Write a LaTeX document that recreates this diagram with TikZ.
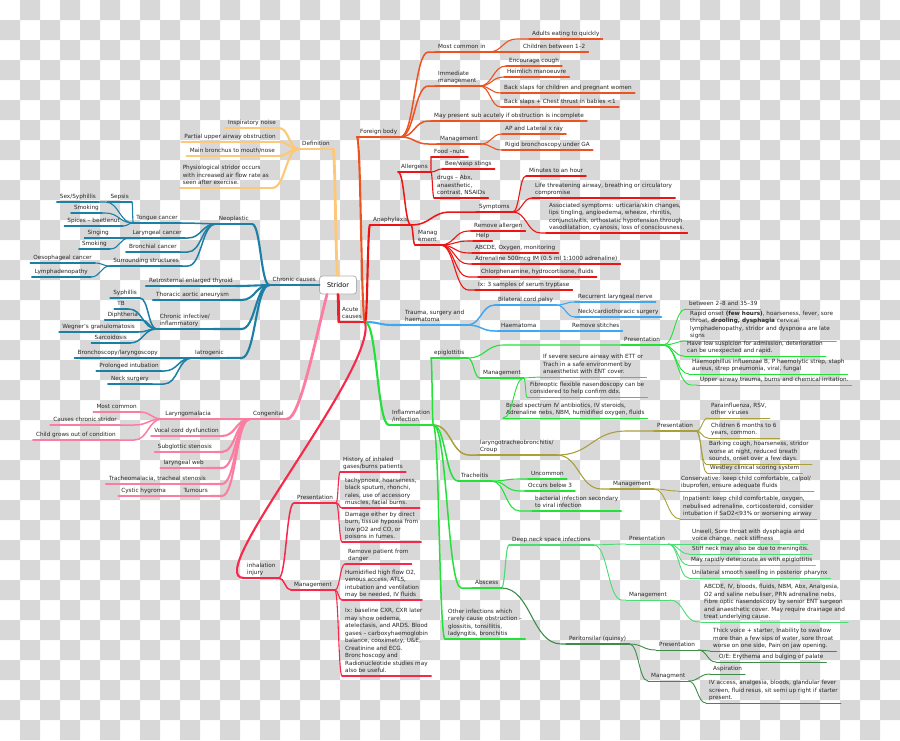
\documentclass[tikz,border=0pt]{standalone}
\usepackage{fontspec}
\setmainfont{DejaVu Sans}
\usetikzlibrary{calc}

\definecolor{chk}{HTML}{D8D8D8}
\definecolor{defc}{HTML}{FDC878}
\definecolor{chrc}{HTML}{1B7FA6}
\definecolor{cngc}{HTML}{FB7EA2}
\definecolor{acuc}{HTML}{EE1C2C}
\definecolor{fbc}{HTML}{EE5220}
\definecolor{anac}{HTML}{EE1414}
\definecolor{trac}{HTML}{3EA8F2}
\definecolor{infc}{HTML}{22E23A}
\definecolor{crpc}{HTML}{A9A03C}
\definecolor{dnsc}{HTML}{4CDC74}
\definecolor{perc}{HTML}{3F8C4A}
\definecolor{inhc}{HTML}{F8284A}

% text sitting on its own underline
\newcommand{\leafR}[4]{\node[leaf, anchor=south west] (#2) at (#3) {#4};
  \draw[#1] (#2.south west) -- (#2.south east);}
\newcommand{\leafL}[4]{\node[leaf, anchor=south east] (#2) at (#3) {#4};
  \draw[#1] (#2.south west) -- (#2.south east);}
% branch curve, flat after the knee
\newcommand{\lnk}[4][28]{\draw[#2] let \p1=(#3), \p2=(#4),
    \n1={min(#1,abs(\x2-\x1))}, \n2={ifthenelse(\x2<\x1,-1,1)} in
    (\p1) .. controls ({\x1+\n2*\n1/2},\y1) and ({\x1+\n2*\n1/2},\y2)
    .. ({\x1+\n2*\n1},\y2) -- (\p2);}
\newcommand{\cnR}[4][28]{\lnk[#1]{#2}{#3.south east}{#4.south west}}
\newcommand{\cnL}[4][28]{\lnk[#1]{#2}{#3.south west}{#4.south east}}

\begin{document}
\begin{tikzpicture}[x=1pt, y=-1pt,
    leaf/.style={inner xsep=3pt, inner ysep=0.8pt, align=left,
      font=\fontsize{5.7}{7.5}\selectfont, text=black!85,
      execute at end node=\strut},
    root/.style={draw=gray!60, fill=white, rounded corners=3pt,
      minimum width=37pt, minimum height=18pt, line width=0.8pt,
      font=\fontsize{6.5}{8}\selectfont},
    w1/.style={line width=2.8pt, line cap=round},
    w2/.style={line width=2.1pt, line cap=round},
    w3/.style={line width=1.5pt, line cap=round},
    w4/.style={line width=1.1pt, line cap=round},
    w5/.style={line width=0.9pt, line cap=round}]

\useasboundingbox (0,0) rectangle (900,740);
% checkered backdrop
\fill[white] (0,0) rectangle (900,740);
\fill[chk] \foreach \i in {0,...,44} { \foreach \j in {0,...,36} {
    \ifodd\numexpr\i+\j\relax (\i*20,\j*20) rectangle +(20,20) \fi } };

\node[root] (stridor) at (338,285) {Stridor};

% definition
\leafL{defc,w1}{def}{333,149}{Definition}
\lnk[6]{defc,w1}{stridor.north}{def.south east}
\leafL{defc,w2}{ins}{279,128}{Inspiratory noise}
\leafL{defc,w2}{pua}{279,142}{Partial upper airway obstruction}
\leafL{defc,w2}{mbm}{278,156}{Main bronchus to mouth/nose}
\leafL{defc,w2}{phy}{272,188}{Physiological stridor occurs\\with increased air flow rate as\\seen after exercise.}
\cnL{defc,w2}{def}{ins}
\cnL{defc,w2}{def}{pua}
\cnL{defc,w2}{def}{mbm}
\cnL{defc,w2}{def}{phy}

% chronic causes
\leafL{chrc,w1}{chr}{319,285}{Chronic causes}
\draw[chrc,w1] (stridor.west) -- (chr.south east);
\leafL{chrc,w2}{neo}{252,224}{Neoplastic}
\leafL{chrc,w2}{rtt}{236,286}{Retrosternal enlarged thyroid}
\leafL{chrc,w2}{taa}{232,300}{Thoracic aortic aneurysm}
\leafL{chrc,w2}{cii}{213,329}{Chronic infective/\\inflammatory}
\leafL{chrc,w2}{iat}{227,358}{Iatrogenic}
\cnL{chrc,w2}{chr}{neo}
\cnL{chrc,w2}{chr}{rtt}
\cnL{chrc,w2}{chr}{taa}
\cnL{chrc,w2}{chr}{cii}
\cnL{chrc,w2}{chr}{iat}

\leafL{chrc,w3}{tng}{181,223}{Tongue cancer}
\leafL{chrc,w3}{lar}{185,238}{Laryngeal cancer}
\leafL{chrc,w3}{brc}{180,252}{Bronchial cancer}
\leafL{chrc,w3}{sur}{182,266}{Surrounding structures}
\cnL{chrc,w3}{neo}{tng}
\cnL{chrc,w3}{neo}{lar}
\cnL{chrc,w3}{neo}{brc}
\cnL{chrc,w3}{neo}{sur}

\leafL{chrc,w4}{sep}{132,202}{Sepsis}
\leafL{chrc,w4}{ssy}{99,202}{Sex/Syphillis}
\leafL{chrc,w4}{smka}{102,213}{Smoking}
\leafL{chrc,w4}{spc}{123,226}{Spices – beetlenut}
\cnL{chrc,w4}{tng}{sep}
\cnL{chrc,w4}{tng}{ssy}
\cnL{chrc,w4}{tng}{smka}
\cnL{chrc,w4}{tng}{spc}
\leafL{chrc,w4}{sng}{112,238}{Singing}
\leafL{chrc,w4}{smkb}{110,249}{Smoking}
\cnL{chrc,w4}{lar}{sng}
\cnL{chrc,w4}{lar}{smkb}
\leafL{chrc,w4}{oes}{95,263}{Oesophageal cancer}
\leafL{chrc,w4}{lym}{91,277}{Lymphadenopathy}
\cnL{chrc,w4}{sur}{oes}
\cnL{chrc,w4}{sur}{lym}

\leafL{chrc,w3}{syp}{140,298}{Syphillis}
\leafL{chrc,w3}{tb}{128,309}{TB}
\leafL{chrc,w3}{dip}{141,320}{Diphtheria}
\leafL{chrc,w3}{weg}{138,332}{Wegner's granulomatosis}
\leafL{chrc,w3}{sar}{130,343}{Sarcoidosis}
\cnL{chrc,w3}{cii}{syp}
\cnL{chrc,w3}{cii}{tb}
\cnL{chrc,w3}{cii}{dip}
\cnL{chrc,w3}{cii}{weg}
\cnL{chrc,w3}{cii}{sar}
\leafL{chrc,w3}{bro}{161,358}{Bronchoscopy/laryngoscopy}
\leafL{chrc,w3}{pro}{162,371}{Prolonged intubation}
\leafL{chrc,w3}{nsu}{152,384}{Neck surgery}
\cnL{chrc,w3}{iat}{bro}
\cnL{chrc,w3}{iat}{pro}
\cnL{chrc,w3}{iat}{nsu}

% congenital
\leafL{cngc,w1}{cng}{287,419}{Congenital}
\draw[cngc,w1] ([xshift=-11pt]stridor.south) .. controls +(-12,46) and +(13,0) .. (cng.south east);
\leafL{cngc,w2}{lma}{214,419}{Laryngomalacia}
\leafL{cngc,w2}{vcd}{222,436}{Vocal cord dysfunction}
\leafL{cngc,w2}{sgs}{215,452}{Subglottic stenosis}
\leafL{cngc,w2}{lwb}{207,468}{laryngeal web}
\leafL{cngc,w2}{trm}{209,484}{Tracheomalacia, tracheal stenosis}
\leafL{cngc,w2}{tum}{211,496}{Tumours}
\cnL{cngc,w2}{cng}{lma}
\cnL{cngc,w2}{cng}{vcd}
\cnL{cngc,w2}{cng}{sgs}
\cnL{cngc,w2}{cng}{lwb}
\cnL{cngc,w2}{cng}{trm}
\cnL{cngc,w2}{cng}{tum}
\leafL{cngc,w3}{mco}{140,412}{Most common}
\leafL{cngc,w3}{ccs}{120,425}{Causes chronic stridor}
\leafL{cngc,w3}{cgo}{119,440}{Child grows out of condition}
\cnL{cngc,w3}{lma}{mco}
\cnL{cngc,w3}{lma}{ccs}
\cnL{cngc,w3}{lma}{cgo}
\leafL{cngc,w3}{cyh}{169,496}{Cystic hygroma}
\cnL{cngc,w3}{tum}{cyh}

% acute causes
\leafR{acuc,w1}{acu}{339,322}{Acute\\causes}
\lnk[4]{acuc,w1}{stridor.south}{acu.south west}
\leafR{fbc,w2}{fb}{357,137}{Foreign body}
\leafR{anac,w2}{ana}{370,225}{Anaphylaxis}
\leafR{trac,w2}{tsh}{402,325}{Trauma, surgery and\\haematoma}
\leafR{infc,w2}{inf}{389,425}{Inflammation\\/infection}
\leafR{inhc,w2}{inh}{244,578}{inhalation\\injury}
\cnR{fbc,w2}{acu}{fb}
\cnR{anac,w2}{acu}{ana}
\cnR{trac,w2}{acu}{tsh}
\cnR{infc,w2}{acu}{inf}
\draw[inhc,w2] (acu.south east) .. controls +(12,48) and +(-44,0) .. (inh.south west);

% foreign body
\leafR{fbc,w3}{mci}{435,52}{Most common in}
\leafR{fbc,w3}{imm}{435,86}{Immediate\\management}
\leafR{fbc,w3}{msa}{431,121}{May present sub acutely if obstruction is incomplete}
\leafR{fbc,w3}{fbm}{437,144}{Management}
\cnR{fbc,w3}{fb}{mci}
\cnR{fbc,w3}{fb}{imm}
\cnR{fbc,w3}{fb}{msa}
\cnR{fbc,w3}{fb}{fbm}
\leafR{fbc,w4}{adl}{529,39}{Adults eating to quickly}
\leafR{fbc,w4}{chb}{520,52}{Children between 1–2}
\cnR{fbc,w4}{mci}{adl}
\cnR{fbc,w4}{mci}{chb}
\leafR{fbc,w4}{enc}{506,66}{Encourage cough}
\leafR{fbc,w4}{hei}{504,77}{Heimlich manoeuvre}
\leafR{fbc,w4}{bsc}{501,93}{Back slaps for children and pregnant women}
\leafR{fbc,w4}{bsb}{501,107}{Back slaps + Chest thrust in babies <1}
\cnR{fbc,w4}{imm}{enc}
\cnR{fbc,w4}{imm}{hei}
\cnR{fbc,w4}{imm}{bsc}
\cnR{fbc,w4}{imm}{bsb}
\leafR{fbc,w4}{apx}{502,134}{AP and Lateral x ray}
\leafR{fbc,w4}{rig}{502,150}{Rigid bronchoscopy under GA}
\cnR{fbc,w4}{fbm}{apx}
\cnR{fbc,w4}{fbm}{rig}

% anaphylaxis
\leafR{anac,w3}{all}{398,172}{Allergens}
\leafR{anac,w3}{sym}{476,212}{Symptoms}
\leafR{anac,w3}{amg}{415,245}{Manag\\ement}
\cnR{anac,w3}{ana}{all}
\cnR[40]{anac,w3}{ana}{sym}
\cnR{anac,w3}{ana}{amg}
\leafR{anac,w4}{fdn}{431,157}{Food –nuts}
\leafR{anac,w4}{bee}{442,169}{Bee/wasp stings}
\leafR{anac,w4}{drg}{434,198}{drugs – Abx,\\anaesthetic,\\contrast, NSAIDs}
\cnR{anac,w4}{all}{fdn}
\cnR{anac,w4}{all}{bee}
\cnR{anac,w4}{all}{drg}
\leafR{anac,w4}{mth}{526,176}{Minutes to an hour}
\leafR{anac,w4}{lta}{532,198}{Life threatening airway, breathing or circulatory\\compromise}
\leafR{anac,w4}{ass}{546,233}{Associated symptoms: urticaria/skin changes,\\lips tingling, angioedema, wheeze, rhinitis,\\conjunctivitis, orthostatic hypotension through\\vasodilatation, cyanosis, loss of consciousness.}
\cnR{anac,w4}{sym}{mth}
\cnR{anac,w4}{sym}{lta}
\cnR{anac,w4}{sym}{ass}
\leafR{anac,w4}{rma}{471,231}{Remove allergen}
\leafR{anac,w4}{hlp}{473,241}{Help}
\leafR{anac,w4}{abc}{472,253}{ABCDE, Oxygen, monitoring}
\leafR{anac,w4}{adr}{472,264}{Adrenaline 500mcg IM (0.5 ml 1:1000 adrenaline)}
\leafR{anac,w4}{chl}{478,277}{Chlorphenamine, hydrocortisone, fluids}
\leafR{anac,w4}{ixt}{475,290}{Ix: 3 samples of serum tryptase}
\cnR{anac,w4}{amg}{rma}
\cnR{anac,w4}{amg}{hlp}
\cnR{anac,w4}{amg}{abc}
\cnR{anac,w4}{amg}{adr}
\cnR{anac,w4}{amg}{chl}
\cnR{anac,w4}{amg}{ixt}

% trauma
\leafR{trac,w3}{bcp}{495,305}{Bilateral cord palsy}
\leafR{trac,w3}{hae}{498,331}{Haematoma}
\cnR{trac,w3}{tsh}{bcp}
\cnR{trac,w3}{tsh}{hae}
\leafR{trac,w4}{rln}{575,302}{Recurrent laryngeal nerve}
\leafR{trac,w4}{ncs}{575,317}{Neck/cardiothoracic surgery}
\leafR{trac,w4}{rms}{569,331}{Remove stitches}
\cnR{trac,w4}{bcp}{rln}
\cnR{trac,w4}{bcp}{ncs}
\cnR{trac,w4}{hae}{rms}

% inflammation / infection
\leafR{infc,w3}{epi}{431,358}{epiglottitis}
\leafR{crpc,w3}{crp}{477,455}{laryngotracheobronchitis/\\Croup}
\leafR{infc,w3}{tra}{458,481}{Tracheitis}
\leafR{infc,w3}{absc}{472,588}{Abscess}
\leafR{infc,w3}{oth}{445,639}{Other infections which\\rarely cause obstruction –\\glossitis, tonsillitis,\\ladyngitis, bronchitis}
\cnR{infc,w3}{inf}{epi}
\cnR[36]{crpc,w3}{inf}{crp}
\cnR{infc,w3}{inf}{tra}
\cnR{infc,w3}{inf}{absc}
\cnR{infc,w3}{inf}{oth}

\leafR{infc,w4}{epr}{621,345}{Presentation}
\leafR{infc,w4}{emg}{480,378}{Management}
\cnR[36]{infc,w4}{epi}{epr}
\cnR{infc,w4}{epi}{emg}
\leafR{infc,w5}{bet}{686,309}{between 2–8 and 35–39}
\leafR{infc,w5}{rap}{687,341}{Rapid onset \textbf{(few hours)}, hoarseness, fever, sore\\throat, \textbf{drooling, dysphagia} cervical\\lymphadenopathy, stridor and dyspnoea are late\\signs}
\leafR{infc,w5}{hls}{684,356}{Have low suspicion for admission, deterioration\\can be unexpected and rapid.}
\leafR{infc,w5}{hib}{689,374}{Haemophillus influenzae B, P haemolytic strep, staph\\aureus, strep pneumonia, viral, fungal}
\leafR{infc,w5}{uat}{697,385}{Upper airway trauma, burns and chemical irritation.}
\cnR{infc,w5}{epr}{bet}
\cnR{infc,w5}{epr}{rap}
\cnR{infc,w5}{epr}{hls}
\cnR{infc,w5}{epr}{hib}
\cnR{infc,w5}{epr}{uat}
\leafR{infc,w5}{sev}{540,377}{If severe secure airway with ETT or\\Trach in a safe environment by\\anaesthetist with ENT cover.}
\leafR{infc,w5}{fib}{527,397}{Fibreoptic flexible nasendoscopy can be\\considered to help confirm ddx.}
\leafR{infc,w5}{bsp}{503,418}{Broad spectrum IV antibiotics, IV steroids,\\Adrenaline nebs, NBM, humidified oxygen, fluids}
\cnR{infc,w5}{emg}{sev}
\cnR{infc,w5}{emg}{fib}
\cnR{infc,w5}{emg}{bsp}

% croup
\leafR{crpc,w4}{cpr}{654,431}{Presentation}
\leafR{crpc,w4}{cmg}{610,489}{Management}
\cnR[70]{crpc,w4}{crp}{cpr}
\cnR[45]{crpc,w4}{crp}{cmg}
\leafR{crpc,w5}{par}{708,418}{Parainfluenza, RSV,\\other viruses}
\leafR{crpc,w5}{csm}{708,438}{Children 6 months to 6\\years, common.}
\leafR{crpc,w5}{bar}{706,464}{Barking cough, hoarseness, stridor\\worse at night, reduced breath\\sounds, onset over a few days.}
\leafR{crpc,w5}{wes}{707,473}{Westley clinical scoring system}
\cnR{crpc,w5}{cpr}{par}
\cnR{crpc,w5}{cpr}{csm}
\cnR{crpc,w5}{cpr}{bar}
\cnR{crpc,w5}{cpr}{wes}
\leafR{crpc,w5}{cns}{678,491}{Conservative: keep child comfortable, calpol/\\ibuprofen, ensure adequate fluids}
\leafR{crpc,w5}{inp}{680,519}{Inpatient: keep child comfortable, oxygen,\\nebulised adrenaline, corticosteroid, consider\\intubation if SaO2<93\% or worsening airway}
\cnR{crpc,w5}{cmg}{cns}
\cnR{crpc,w5}{cmg}{inp}

% tracheitis
\leafR{infc,w4}{unc}{528,479}{Uncommon}
\leafR{infc,w4}{ob3}{525,491}{Occurs below 3}
\leafR{infc,w4}{bac}{532,511}{bacterial infection secondary\\to viral infection}
\cnR{infc,w4}{tra}{unc}
\cnR{infc,w4}{tra}{ob3}
\cnR{infc,w4}{tra}{bac}

% abscess
\leafR{dnsc,w4}{dns}{509,545}{Deep neck space infections}
\leafR{perc,w4}{per}{566,644}{Peritonsilar (quinsy)}
\cnR{dnsc,w4}{absc}{dns}
\cnR[60]{perc,w4}{absc}{per}
\leafR{dnsc,w5}{dpr}{626,544}{Presentation}
\leafR{dnsc,w5}{dmg}{626,600}{Management}
\cnR{dnsc,w5}{dns}{dpr}
\cnR{dnsc,w5}{dns}{dmg}
\leafR{dnsc,w5}{unw}{689,544}{Unwell, Sore throat with dysphagia and\\voice change. neck stiffness}
\leafR{dnsc,w5}{stf}{689,554}{Stiff neck may also be due to meningitis.}
\leafR{dnsc,w5}{mrd}{688,565}{May rapidly deteriorate as with epiglottitis}
\leafR{dnsc,w5}{uni}{689,578}{Unilateral smooth swelling in posterior pharynx}
\cnR{dnsc,w5}{dpr}{unw}
\cnR{dnsc,w5}{dpr}{stf}
\cnR{dnsc,w5}{dpr}{mrd}
\cnR{dnsc,w5}{dpr}{uni}
\leafR{dnsc,w5}{abd}{701,622}{ABCDE, IV, bloods, fluids, NBM, Abx, Analgesia,\\O2 and saline nebuliser, PRN adrenaline nebs,\\Fibre optic nasendoscopy by senior ENT surgeon\\and anaesthetic cover. May require drainage and\\treat underlying cause.}
\cnR{dnsc,w5}{dmg}{abd}
\leafR{perc,w5}{ppr}{656,650}{Presentation}
\leafR{perc,w5}{pmg}{648,681}{Managment}
\cnR{perc,w5}{per}{ppr}
\cnR{perc,w5}{per}{pmg}
\leafR{perc,w5}{thk}{710,651}{Thick voice + starter, Inability to swallow\\more than a few sips of water, sore throat\\worse on one side, Pain on jaw opening.}
\leafR{perc,w5}{oe}{716,662}{O/E: Erythema and bulging of palate}
\cnR{perc,w5}{ppr}{thk}
\cnR{perc,w5}{ppr}{oe}
\leafR{perc,w5}{asp}{710,674}{Aspiration}
\leafR{perc,w5}{iva}{706,703}{IV access, analgesia, bloods, glandular fever\\screen, fluid resus, sit semi up right if starter\\present.}
\cnR{perc,w5}{pmg}{asp}
\cnR{perc,w5}{pmg}{iva}

% inhalation injury
\leafR{inhc,w3}{ipr}{294,503}{Presentation}
\leafR{inhc,w3}{img}{291,590}{Management}
\cnR{inhc,w3}{inh}{ipr}
\cnR{inhc,w3}{inh}{img}
\leafR{inhc,w4}{his}{340,472}{History of inhaled\\gases/burns patients}
\leafR{inhc,w4}{tac}{342,508}{tachypnoea, hoarseness,\\black sputum, rhonchi,\\rales, use of accessory\\muscles, facial burns.}
\leafR{inhc,w4}{dam}{342,542}{Damage either by direct\\burn, tissue hypoxia from\\low pO2 and CO, or\\poisons in fumes.}
\cnR{inhc,w4}{ipr}{his}
\cnR{inhc,w4}{ipr}{tac}
\cnR{inhc,w4}{ipr}{dam}
\leafR{inhc,w4}{rem}{345,564}{Remove patient from\\danger}
\leafR{inhc,w4}{hum}{342,600}{Humidified high flow O2,\\venous access, ATLS,\\intubation and ventilation\\may be needed, IV fluids}
\leafR{inhc,w4}{ixb}{342,676}{Ix: baseline CXR, CXR later\\may show oedema,\\atelectasis, and ARDS. Blood\\gases – carboxyhaemoglobin\\balance, cooximetry, U\&E,\\Creatinine and ECG.\\Bronchoscopy and\\Radionucleotide studies may\\also be useful.}
\cnR{inhc,w4}{img}{rem}
\cnR{inhc,w4}{img}{hum}
\cnR{inhc,w4}{img}{ixb}

\end{tikzpicture}
\end{document}
